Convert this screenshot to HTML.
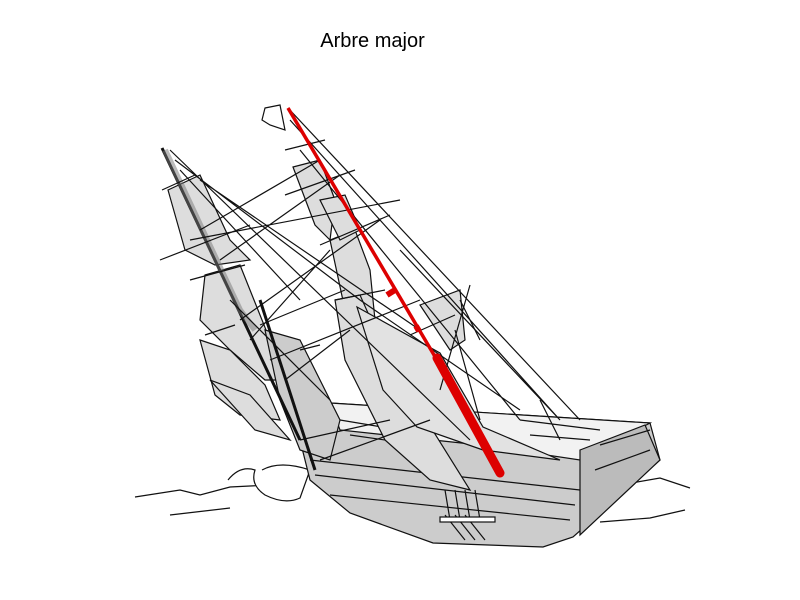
<!DOCTYPE html>
<html><head><style>
body{margin:0;background:#fff;width:800px;height:600px;overflow:hidden}
.t{position:absolute;left:0;width:745px;top:30px;text-align:center;font:20px "Liberation Sans",sans-serif;color:#000}
</style></head><body>
<div class="t">Arbre major</div>
<svg width="800" height="600" style="position:absolute;left:0;top:0" stroke="#111" stroke-width="1.2" fill="none">
<!-- sea -->
<path d="M135 497 L180 490 L200 495 L230 487 L270 485 M170 515 L230 508 M585 498 L620 485 L660 478 L690 488 M600 522 L650 518 L685 510" />
<path d="M228 480 Q240 465 255 470 Q250 485 265 495 Q285 505 300 498 L310 470 Q280 460 262 470" fill="#fff"/>
<!-- deck / hull -->
<polygon points="330,403 650,423 660,460 573,537 543,547 433,543 350,513 310,480 300,440" fill="#ccc"/>
<polygon points="330,403 650,423 580,460 480,445 340,430" fill="#f2f2f2"/>
<polygon points="580,450 645,425 660,460 580,535" fill="#bbb"/>
<path d="M310,460 L580,490 M315,475 L575,505 M330,495 L570,520 M600,445 L650,430 M595,470 L650,450"/>
<path d="M340,420 L400,430 M350,435 L420,445 M380,410 L390,440 M520,420 L600,430 M530,435 L590,440 M540,400 L560,440"/>
<path d="M445,515 L465,540 M455,515 L475,540 M465,515 L485,540 M445,490 L450,520 M455,490 L460,520 M465,490 L470,520 M475,490 L480,520"/>
<rect x="440" y="517" width="55" height="5" fill="#fff"/>
<!-- fore mast sails (left) -->
<polygon points="168,190 200,175 230,240 250,260 215,265 185,250" fill="#ddd"/>
<polygon points="205,275 240,265 270,340 300,380 265,380 230,350 200,320" fill="#ddd"/>
<polygon points="200,340 230,350 265,385 280,420 240,415 215,395" fill="#ddd"/>
<polygon points="210,380 250,395 290,440 255,430" fill="#ddd"/>
<polygon points="265,330 300,340 340,420 330,460 300,450 280,400" fill="#ccc"/>
<!-- main sails -->
<polygon points="293,167 320,160 335,200 330,240 315,225" fill="#ddd"/>
<polygon points="330,240 355,230 370,270 375,320 345,310" fill="#ddd"/>
<polygon points="320,200 345,195 360,230 340,240" fill="#ddd"/>
<polygon points="335,300 360,295 380,340 420,410 470,490 430,480 385,440 345,360" fill="#ddd"/>
<polygon points="357,307 440,353 483,427 560,460 483,450 417,427 383,390" fill="#e2e2e2"/>
<polygon points="420,305 460,290 465,340 450,350" fill="#ddd"/>
<!-- masts -->
<path d="M162,148 L300,440 M260,300 L315,470" stroke-width="3"/>
<path d="M165,150 L240,310 L255,330" stroke="#777" stroke-width="6" opacity="0.5"/>
<!-- yards -->
<path d="M162,190 L195,175 M160,260 L250,225 M190,280 L245,265 M260,325 L345,290 M205,335 L235,325 M285,150 L325,140 M285,195 L355,170 M320,245 L390,215 M335,300 L385,290 M410,335 L455,315 M300,350 L320,345"/>
<!-- rigging -->
<path d="M288,108 L580,420 M290,120 L560,420 M300,150 L520,420 M170,150 L470,440 M200,180 L420,330 M175,160 L360,300 M200,230 L320,160 M220,260 L340,175 M240,320 L380,220 M250,340 L330,250 M285,380 L350,330 M270,360 L420,300 M360,300 L520,410 M400,250 L560,420 M470,285 L440,390 M190,240 L400,200 M300,440 L390,420 M320,460 L430,420 M180,170 L300,300 M230,300 L330,400"/>
<path d="M455,330 L480,420 M460,300 L480,340" />
<!-- flag -->
<path d="M265,108 L280,105 L285,130 L270,125 L262,120 Z" fill="#fff"/>
<!-- red main mast -->
<path d="M288,108 L437,360" stroke="#d00" stroke-width="3.5"/>
<path d="M437,358 L500,473" stroke="#d00" stroke-width="9" stroke-linecap="round"/>
<path d="M387,295 L395,290 M415,330 L420,327" stroke="#d00" stroke-width="6"/>
</svg>
</body></html>
